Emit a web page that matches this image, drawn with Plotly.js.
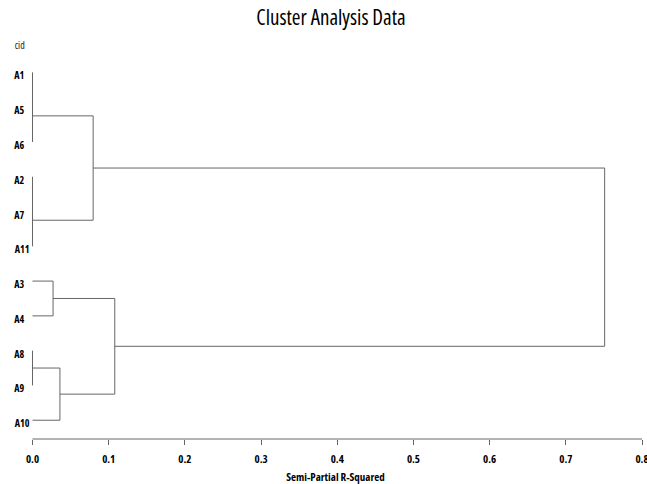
<!DOCTYPE html>
<html>
<head>
<meta charset="utf-8">
<script src="https://cdn.plot.ly/plotly-3.0.1.min.js"></script>
<style>
html,body{margin:0;padding:0;background:#fff;}
#chart{width:647px;height:484px;}
#chart svg text{font-stretch:condensed !important;}
</style>
</head>
<body>
<div id="chart"></div>
<script>
// Leaf order (top to bottom)
var leaves = ['A1','A5','A6','A2','A7','A11','A3','A4','A8','A9','A10'];
// Merges: children are leaf names or 'm<index>' of an earlier merge
var mergeLeft   = ['A1','m0','A2','m2','m1','A3','A8','m6','m5','m4'];
var mergeRight  = ['A5','A6','A7','A11','m3','A4','A9','A10','m7','m8'];
var mergeHeight = [0, 0, 0, 0, 0.0796, 0.027, 0, 0.036, 0.108, 0.751];
var xTickVals = [0, 0.1, 0.2, 0.3, 0.4, 0.5, 0.6, 0.7, 0.8];

var pos = {}, hgt = {};
leaves.forEach(function(n, i){ pos[n] = i; hgt[n] = 0; });
var xs = [], ys = [];
for (var k = 0; k < mergeHeight.length; k++) {
  var a = mergeLeft[k], b = mergeRight[k], h = mergeHeight[k];
  [a, b].forEach(function(c){
    if (h > hgt[c]) { xs.push(hgt[c], h, null); ys.push(pos[c], pos[c], null); }
  });
  xs.push(h, h, null); ys.push(pos[a], pos[b], null);
  var id = 'm' + k;
  pos[id] = (pos[a] + pos[b]) / 2;
  hgt[id] = h;
}

var F = '"Open Sans", "DejaVu Sans Condensed", sans-serif';
var lblFont = {family: F, size: 10, color: '#000', weight: 'bold'};
var annotations = leaves.map(function(n, i){
  return {text: n, xref: 'paper', yref: 'y', x: -0.029, y: i,
          xanchor: 'left', yanchor: 'middle', yshift: -3, showarrow: false, font: lblFont};
});
annotations.push({text: 'cid', xref: 'paper', yref: 'paper', x: -0.029, y: 1.026,
  xanchor: 'left', yanchor: 'middle', showarrow: false,
  font: {family: F, size: 10, color: '#222'}});

var trace = {x: xs, y: ys, type: 'scatter', mode: 'lines',
  line: {color: '#666', width: 1, simplify: false}, hoverinfo: 'skip', showlegend: false};

var layout = {
  width: 647, height: 484,
  margin: {l: 29, r: 5, t: 55, b: 45},
  paper_bgcolor: '#fff', plot_bgcolor: '#fff',
  title: {text: 'Cluster Analysis Data', x: 0.5116, xanchor: 'center', xref: 'container',
          y: 0.963, yanchor: 'middle', yref: 'container',
          font: {family: F, size: 21, color: '#000'}},
  xaxis: {range: [-0.004594, 0.8], tickvals: xTickVals, tickformat: '.1f',
          showline: false, showgrid: false, zeroline: false,
          ticks: 'outside', ticklen: 5, tickcolor: '#666', tickwidth: 1,
          ticklabelstandoff: 5, ticklabeloverflow: 'allow',
          tickfont: {family: F, size: 11, color: '#000', weight: 'bold'},
          title: {text: 'Semi-Partial R-Squared', standoff: 10,
                  font: {family: F, size: 11, color: '#000', weight: 'bold'}},
          fixedrange: true},
  yaxis: {range: [10.54, -0.5], visible: false, showgrid: false, zeroline: false, fixedrange: true},
  shapes: [{type: 'line', xref: 'x', yref: 'paper', x0: 0, x1: 0.8, y0: 0, y1: 0,
            line: {color: '#666', width: 1}}],
  annotations: annotations
};
Plotly.newPlot('chart', [trace], layout, {displayModeBar: false, staticPlot: true});
</script>
</body>
</html>
